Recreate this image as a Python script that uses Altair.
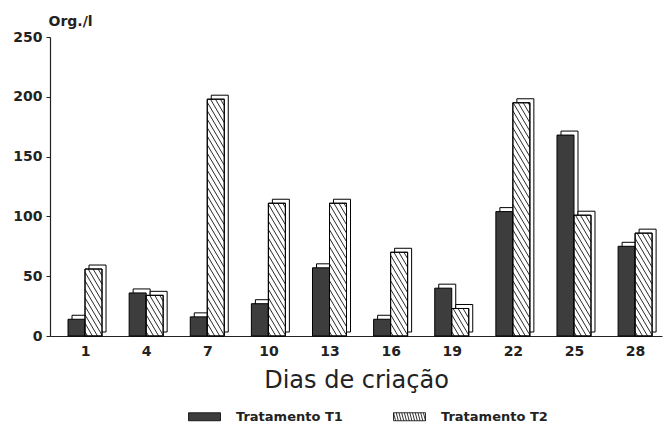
import altair as alt
import pandas as pd
import numpy as np

# ---- data ----
days = ["1", "4", "7", "10", "13", "16", "19", "22", "25", "28"]
t1_values = [14, 36, 16, 27, 57, 14, 40, 104, 168, 75]
t2_values = [56, 34, 198, 111, 111, 70, 23, 195, 101, 86]
series = ["Tratamento T1", "Tratamento T2"]
y_ticks = [0, 50, 100, 150, 200, 250]

# ---- layout / style constants ----
W, H = 612, 299
X_DOM = [-0.573, 9.44]
Y_DOM = [0, 250]
BAR_PX = 17          # front face width in px
DEPTH = 4            # 3D offset in px
SLOPE = 1.7          # hatch slope (px down per px right)
GAP = 5.0            # hatch horizontal spacing in px
FONT = "DejaVu Sans"
DARK = "#3d3d3d"

px_x = W / (X_DOM[1] - X_DOM[0])
px_y = H / (Y_DOM[1] - Y_DOM[0])
bw = BAR_PX / px_x

rows = []
for i, (d, a, b) in enumerate(zip(days, t1_values, t2_values)):
    rows.append(dict(day=d, idx=i, trat=series[0], v=a, x0=i - bw, x1=i))
    rows.append(dict(day=d, idx=i, trat=series[1], v=b, x0=i, x1=i + bw))
df = pd.DataFrame(rows)

# hatch segments for T2 front faces, derived from the bar values
hatch = []
for r in rows:
    if r["trat"] != series[1]:
        continue
    Wp = BAR_PX
    Hp = r["v"] * px_y
    step = GAP * SLOPE
    c = step / 2
    while c < Hp + SLOPE * Wp:
        if c <= Hp:
            xa, ya = 0.0, c
        else:
            xa, ya = (c - Hp) / SLOPE, Hp
        yr = c - SLOPE * Wp
        if yr >= 0:
            xb, yb = Wp, yr
        else:
            xb, yb = c / SLOPE, 0.0
        hatch.append(dict(hx0=r["x0"] + xa / px_x, hy0=ya / px_y,
                          hx1=r["x0"] + xb / px_x, hy1=yb / px_y))
        c += step
hdf = pd.DataFrame(hatch)

# legend symbol paths
rect_path = "M-1,-0.25H1V0.25H-1Z"
hp = [rect_path]
for x in np.arange(-1.0, 1.0, 0.17):
    x2 = min(x + 0.13, 1.0)
    hp.append(f"M{x:.3f},-0.25L{x2:.3f},0.25")
hatch_path = " ".join(hp)

xscale = alt.Scale(domain=X_DOM, nice=False, zero=False)
yscale = alt.Scale(domain=Y_DOM, nice=False)

label_expr = "[" + ",".join(f"'{d}'" for d in days) + "][datum.value]"

x_axis = alt.Axis(values=list(range(len(days))), labelExpr=label_expr, ticks=False,
                  title="Dias de criação", titleFont=FONT, titleFontSize=24,
                  titleFontWeight="normal", titleColor="#222", titlePadding=10,
                  labelFont=FONT, labelFontSize=14, labelFontWeight="bold",
                  labelColor="#222", labelPadding=8, domainColor="#222",
                  domainWidth=1.2, grid=False)
y_axis = alt.Axis(values=y_ticks, title="Org./l", titleAngle=0, titleAlign="left",
                  titleBaseline="alphabetic", titleX=-2, titleY=-12,
                  titleFont=FONT, titleFontSize=14, titleFontWeight="bold",
                  titleColor="#222", labelFont=FONT, labelFontSize=14,
                  labelFontWeight="bold", labelColor="#222", labelPadding=4,
                  tickSize=4, tickColor="#222", domainColor="#222",
                  domainWidth=1.2, grid=False)

base = alt.Chart(df)

back = base.mark_bar(fill="white", stroke="black", strokeWidth=1,
                     xOffset=DEPTH, x2Offset=DEPTH, yOffset=-DEPTH, y2Offset=-DEPTH).encode(
    x=alt.X("x0:Q", scale=xscale, axis=x_axis),
    x2="x1:Q",
    y=alt.Y("v:Q", scale=yscale, axis=y_axis),
    y2=alt.datum(0),
)

symbol_expr = f"datum.value === '{series[0]}' ? '{rect_path}' : '{hatch_path}'"

front = base.mark_bar(stroke="black", strokeWidth=1).encode(
    x=alt.X("x0:Q", scale=xscale, axis=x_axis),
    x2="x1:Q",
    y=alt.Y("v:Q", scale=yscale, axis=y_axis),
    y2=alt.datum(0),
    fill=alt.Fill("trat:N", scale=alt.Scale(domain=series, range=[DARK, "white"]),
                  legend=alt.Legend(
                      orient="none", legendX=138, legendY=363, direction="horizontal",
                      title=None, padding=0, symbolSize=1024, symbolStrokeColor="black",
                      symbolStrokeWidth=0.8, symbolOpacity=1,
                      symbolType=alt.ExprRef(expr=symbol_expr),
                      labelFont=FONT, labelFontSize=13, labelFontWeight="bold",
                      labelColor="#222", labelOffset=15, columnPadding=48,
                  )),
)

hatch_layer = alt.Chart(hdf).mark_rule(color="#111", strokeWidth=0.9).encode(
    x=alt.X("hx0:Q", scale=xscale, axis=x_axis),
    x2="hx1:Q",
    y=alt.Y("hy0:Q", scale=yscale, axis=y_axis),
    y2="hy1:Q",
)

outline = base.transform_filter(alt.datum.trat == series[1]).mark_bar(
    fill=None, stroke="black", strokeWidth=1).encode(
    x=alt.X("x0:Q", scale=xscale, axis=x_axis),
    x2="x1:Q",
    y=alt.Y("v:Q", scale=yscale, axis=y_axis),
    y2=alt.datum(0),
)

chart = alt.layer(back, front, hatch_layer, outline).properties(
    width=W, height=H,
    autosize=alt.AutoSizeParams(type="none"),
    padding={"left": 42, "top": 29, "right": 2, "bottom": 87},
    background="white",
).configure_view(stroke=None)

chart.save("out.html", embed_options={"renderer": "svg", "actions": False})
